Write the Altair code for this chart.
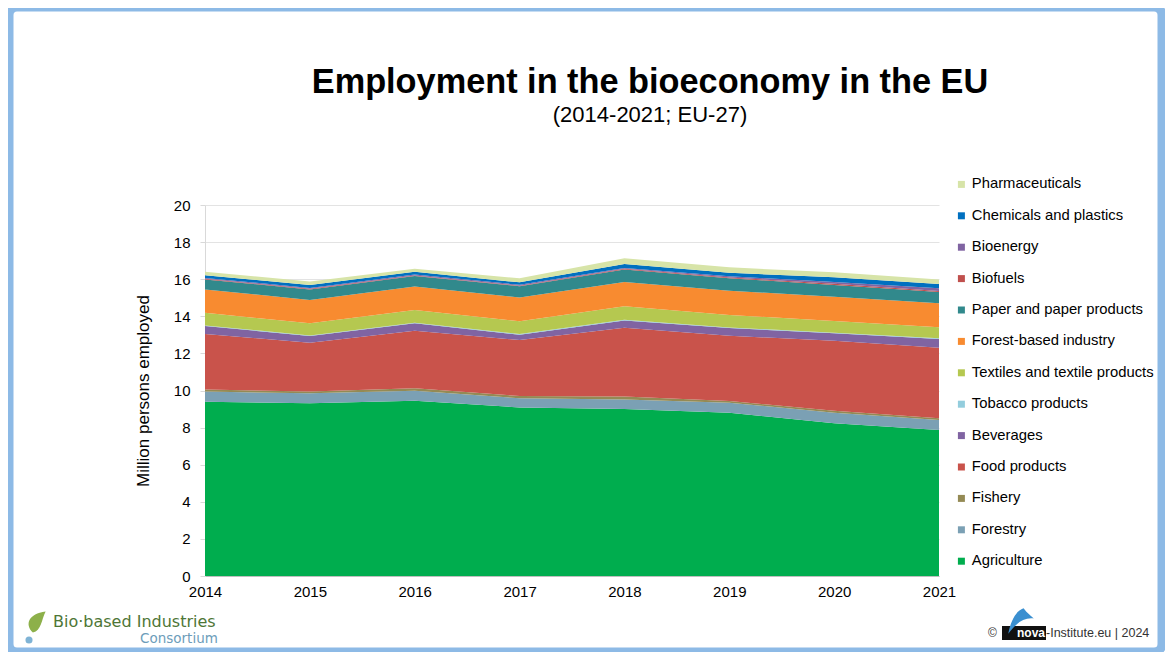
import altair as alt
import pandas as pd

years = [2014, 2015, 2016, 2017, 2018, 2019, 2020, 2021]

# sectors, bottom of the stack first
sectors = [
    "Agriculture", "Forestry", "Fishery", "Food products", "Beverages",
    "Tobacco products", "Textiles and textile products", "Forest-based industry",
    "Paper and paper products", "Biofuels", "Bioenergy", "Chemicals and plastics",
    "Pharmaceuticals",
]
colors = [
    "#00AD4E", "#7BA0B4", "#948A54", "#C9534B", "#8064A2",
    "#93CDDD", "#B5C850", "#F88B30",
    "#31898C", "#C0504D", "#8064A2", "#0070C0",
    "#D7E4A8",
]

# million persons employed, per year 2014..2021
agriculture = [9.40, 9.31, 9.45, 9.09, 9.00, 8.80, 8.23, 7.87]
forestry = [0.54, 0.54, 0.54, 0.49, 0.52, 0.54, 0.57, 0.54]
fishery = [0.12, 0.09, 0.13, 0.12, 0.15, 0.09, 0.11, 0.09]
food = [2.99, 2.64, 3.10, 3.02, 3.71, 3.52, 3.77, 3.80]
beverages = [0.43, 0.36, 0.40, 0.29, 0.40, 0.42, 0.40, 0.48]
tobacco = [0.03, 0.03, 0.03, 0.03, 0.03, 0.03, 0.03, 0.03]
textiles = [0.68, 0.65, 0.69, 0.69, 0.73, 0.67, 0.64, 0.60]
forest_based = [1.26, 1.26, 1.26, 1.29, 1.31, 1.31, 1.31, 1.29]
paper = [0.54, 0.57, 0.57, 0.60, 0.67, 0.67, 0.63, 0.61]
biofuels = [0.03, 0.03, 0.03, 0.03, 0.04, 0.04, 0.06, 0.05]
bioenergy = [0.05, 0.05, 0.05, 0.05, 0.05, 0.07, 0.10, 0.15]
chemicals = [0.14, 0.16, 0.15, 0.13, 0.21, 0.19, 0.25, 0.23]
pharma = [0.19, 0.18, 0.17, 0.22, 0.31, 0.29, 0.27, 0.25]

series = [agriculture, forestry, fishery, food, beverages, tobacco, textiles,
          forest_based, paper, biofuels, bioenergy, chemicals, pharma]

rows = []
for i, (name, vals) in enumerate(zip(sectors, series)):
    for y, v in zip(years, vals):
        rows.append({"year": y, "sector": name, "value": v, "order": i})
df = pd.DataFrame(rows)

FONT = "Liberation Sans"
W, H = 734, 371

area = alt.Chart(df).mark_area(interpolate="linear", opacity=1, strokeWidth=0).encode(
    x=alt.X("year:Q", title=None,
            scale=alt.Scale(domain=[2014, 2021], nice=False, zero=False),
            axis=alt.Axis(values=years, format="d", labelFontSize=15, labelFont=FONT,
                          labelColor="#000000", labelPadding=8, ticks=False,
                          labelFlush=False, labelOverlap=False,
                          domainColor="#BFBFBF", grid=False)),
    y=alt.Y("value:Q", stack="zero",
            scale=alt.Scale(domain=[0, 20], nice=False),
            axis=alt.Axis(values=list(range(0, 21, 2)), title="Million persons employed",
                          titleFontSize=17, titleFont=FONT, titleFontWeight="normal",
                          titleColor="#000000", titleX=-62, titleY=H / 2,
                          titleAngle=-90, titleAlign="center", titleBaseline="middle",
                          labelFontSize=15, labelFont=FONT, labelColor="#000000",
                          labelPadding=10, tickSize=5, tickColor="#D9D9D9",
                          domainColor="#D9D9D9", gridColor="#E3E3E3", gridWidth=1)),
    color=alt.Color("sector:N",
                    scale=alt.Scale(domain=sectors[::-1], range=colors[::-1]),
                    legend=alt.Legend(title=None, orient="none", legendX=749, legendY=-28,
                                      symbolType="square", symbolSize=49,
                                      symbolStrokeWidth=0, labelFontSize=14.8,
                                      labelFont=FONT, labelColor="#000000",
                                      rowPadding=15.4, labelOffset=3, padding=0,
                                      labelLimit=300)),
    order=alt.Order("order:Q", sort="ascending"),
)

one = pd.DataFrame({"a": [0]})

frame = alt.Chart(one).mark_rect(fill="transparent", stroke="#8DBAE6", strokeWidth=9,
                                 cornerRadius=8).encode(
    x=alt.value(-196), x2=alt.value(957), y=alt.value(-198), y2=alt.value(447)
)

title = alt.Chart(one).mark_text(text="Employment in the bioeconomy in the EU",
                                 font=FONT, fontSize=34.3, fontWeight="bold",
                                 color="#000000", align="center", baseline="middle").encode(
    x=alt.value(445), y=alt.value(-122)
)
subtitle = alt.Chart(one).mark_text(text="(2014-2021; EU-27)", font=FONT, fontSize=22,
                                    color="#000000", align="center", baseline="middle").encode(
    x=alt.value(445), y=alt.value(-90)
)

logo1 = alt.Chart(one).mark_text(text="Bio·based Industries", font="DejaVu Sans",
                                 fontSize=16, color="#4E7636", align="left",
                                 baseline="middle").encode(
    x=alt.value(-152), y=alt.value(417)
)
logo2 = alt.Chart(one).mark_text(text="Consortium", font="DejaVu Sans", fontSize=13.5,
                                 color="#6D9DBA", align="left", baseline="middle").encode(
    x=alt.value(-65), y=alt.value(434)
)
leaf = alt.Chart(one).mark_point(
    shape="M-0.2,1 C-1,0.2 -0.6,-0.8 1,-1 C0.6,-0.2 0.6,0.8 -0.2,1 Z",
    filled=True, color="#8DB04A", size=450, opacity=1).encode(
    x=alt.value(-170), y=alt.value(417)
)
drop = alt.Chart(one).mark_point(shape="circle", filled=True, color="#7FB3D5",
                                 size=50, opacity=1).encode(
    x=alt.value(-176), y=alt.value(435)
)

copy1 = alt.Chart(one).mark_text(text="©", font=FONT, fontSize=12, color="#333333",
                                 align="left", baseline="middle").encode(
    x=alt.value(783), y=alt.value(428)
)
sail = alt.Chart(one).mark_point(
    shape="M-1,1 C-0.8,0 -0.4,-0.8 0.2,-1 C0.5,-0.6 0.8,-0.4 1,-0.2 C0.2,-0.3 -0.4,0.2 -1,1 Z",
    filled=True, color="#3A8FD0", size=650, opacity=1).encode(
    x=alt.value(816), y=alt.value(416)
)
novabox = alt.Chart(one).mark_rect(color="#111111").encode(
    x=alt.value(797), x2=alt.value(841), y=alt.value(421), y2=alt.value(435)
)
nova = alt.Chart(one).mark_text(text="nova", font=FONT, fontSize=12, fontWeight="bold",
                                color="white", align="left", baseline="middle").encode(
    x=alt.value(812), y=alt.value(428)
)
copy2 = alt.Chart(one).mark_text(text="-Institute.eu | 2024", font=FONT, fontSize=12.5,
                                 color="#333333", align="left", baseline="middle").encode(
    x=alt.value(841), y=alt.value(428)
)

chart = alt.layer(area, title, subtitle, leaf, drop, logo1, logo2,
                  novabox, sail, nova, copy1, copy2, frame).properties(
    width=W, height=H,
    padding={"left": 197, "top": 197, "right": 226, "bottom": 76},
    autosize=alt.AutoSizeParams(type="none"),
    background="white",
).configure_view(stroke=None)

chart.save("out.html", embed_options={"renderer": "svg", "actions": False})
